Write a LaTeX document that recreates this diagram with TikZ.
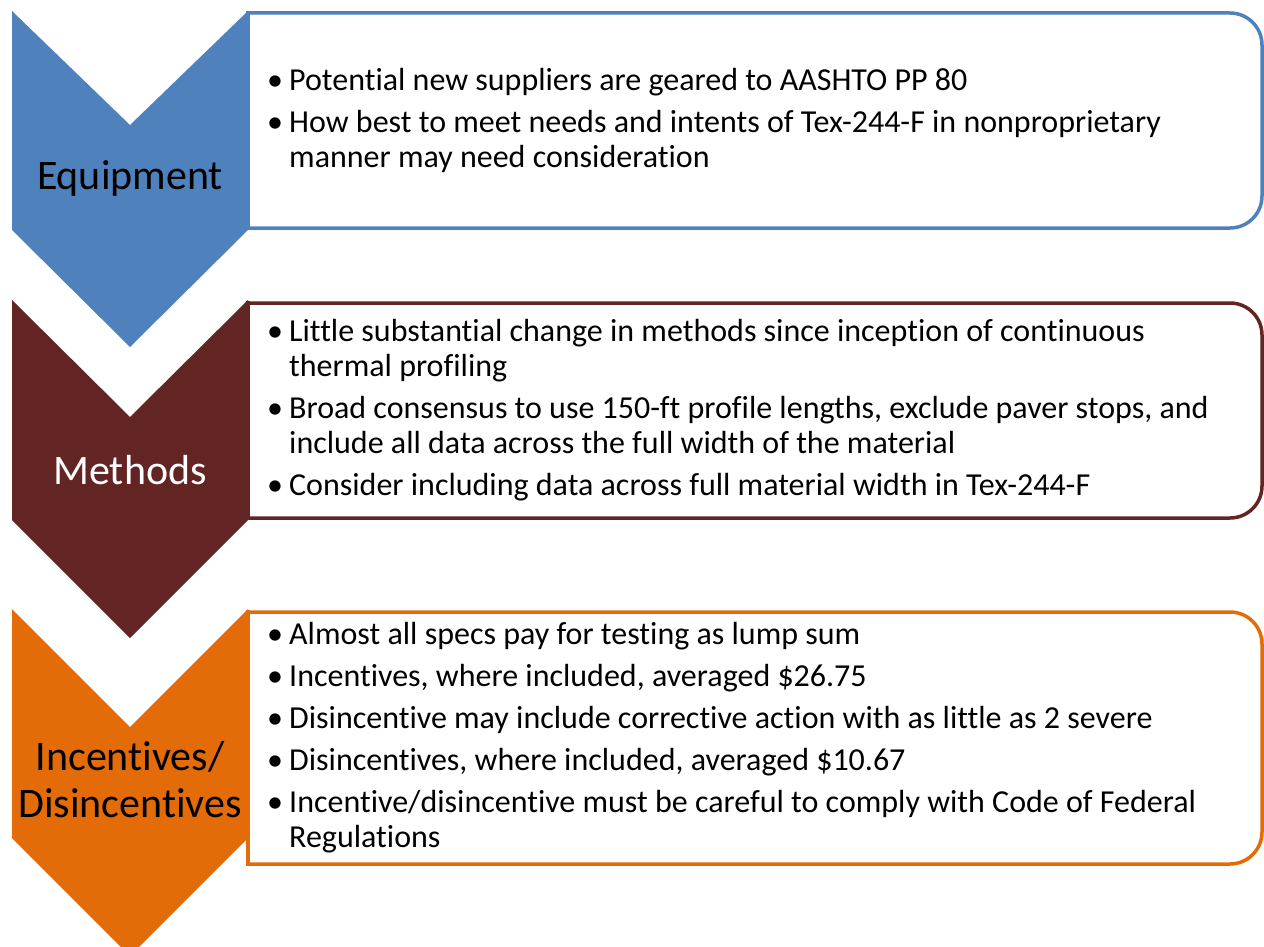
\documentclass[tikz,border=0pt]{standalone}
\usepackage{fontspec}
\setmainfont[Ligatures=NoCommon]{Carlito}
\definecolor{cblue}{HTML}{4F81BD}
\definecolor{cmaroon}{HTML}{632523}
\definecolor{corange}{HTML}{E36C09}
% one bullet item with hanging indent
\newcommand{\bul}[1]{\par\hangindent=22pt\hangafter=1\noindent\makebox[22pt][l]{•}#1}
% line break inside an item that keeps the hanging indent
\newcommand{\brk}{\hfil\break}
% a block of bullet items, ragged right
\newenvironment{bullets}{\begin{minipage}{990pt}\raggedright\setlength{\parskip}{7pt}}{\end{minipage}}
\tikzset{
  chev/.style={fill=#1, draw=none},
  panel/.style={draw=#1, line width=3.5pt, fill=white},
  label/.style={font=\fontsize{42}{47}\selectfont, align=center, inner sep=0pt},
  points/.style={anchor=west, inner sep=0pt, font=\fontsize{32}{35}\selectfont}
}
\begin{document}
\begin{tikzpicture}[x=1pt,y=-1pt]
\useasboundingbox (0,0) rectangle (1264,947);

% panels with rounded right corners
\foreach \t/\b/\c in {13/228/cblue, 303/518/cmaroon, 612/864/corange}{
  \fill[white] (248,\t) rectangle (1262,\b);
  \draw[panel=\c, rounded corners=32pt] (248,\t) -- (1262,\t) -- (1262,\b) -- (248,\b);
  \draw[panel=\c, line cap=rect] (248,\t) -- (248,\b);
}

% chevrons
\fill[chev=cblue] (12,11) -- (130,125) -- (248,11) -- (248,230) -- (130,347) -- (12,230) -- cycle;
\fill[chev=cmaroon] (12,300) -- (130,417) -- (248,300) -- (248,520) -- (130,638) -- (12,520) -- cycle;
\fill[chev=corange] (12,609) -- (130,727) -- (248,609) -- (248,838) -- (130,956) -- (12,838) -- cycle;

% chevron labels
\node[label, text=black] (equip) at (130,178) {Equipment};
\node[label, text=white] (meth) at (130,470) {Methods};
\node[label, text=black] (incent) at (130,780) {Incentives/\\Disincentives};

% panel texts
\node[points] (t1) at (267,120) {\begin{bullets}
\bul{Potential new suppliers are geared to AASHTO PP 80}
\bul{How best to meet needs and intents of Tex-244-F in nonproprietary\brk manner may need consideration}
\end{bullets}};
\node[points] (t2) at (267,410) {\begin{bullets}
\bul{Little substantial change in methods since inception of continuous\brk thermal profiling}
\bul{Broad consensus to use 150-ft profile lengths, exclude paver stops, and\brk include all data across the full width of the material}
\bul{Consider including data across full material width in Tex-244-F}
\end{bullets}};
\node[points] (t3) at (267,738) {\begin{bullets}
\bul{Almost all specs pay for testing as lump sum}
\bul{Incentives, where included, averaged \$26.75}
\bul{Disincentive may include corrective action with as little as 2 severe}
\bul{Disincentives, where included, averaged \$10.67}
\bul{Incentive/disincentive must be careful to comply with Code of Federal\brk Regulations}
\end{bullets}};
\end{tikzpicture}
\end{document}
